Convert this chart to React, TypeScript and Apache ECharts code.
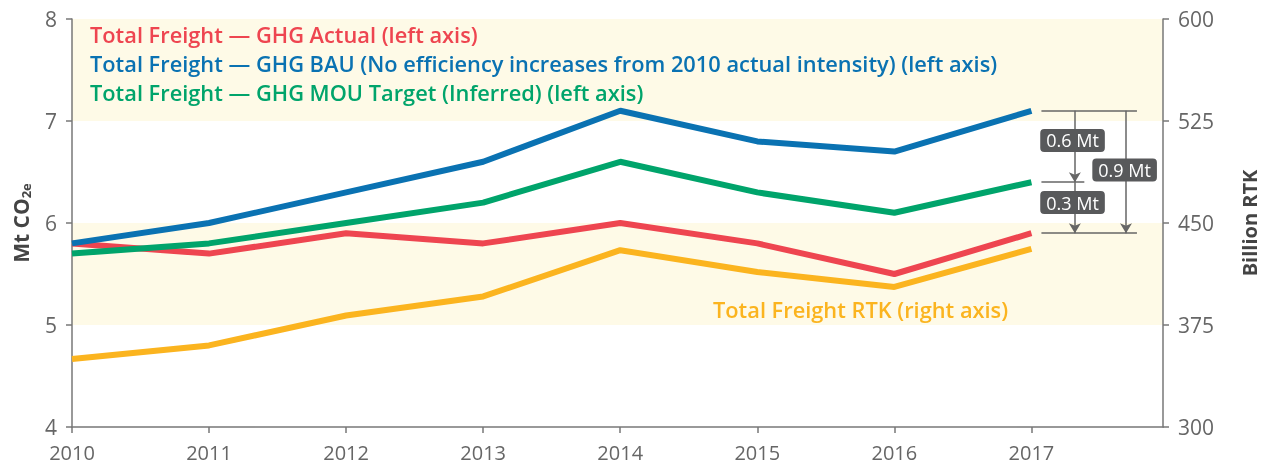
import React, { useEffect, useRef } from "react";
import * as echarts from "echarts";

const years = [2010, 2011, 2012, 2013, 2014, 2015, 2016, 2017];
const ghgActual = [5.8, 5.7, 5.9, 5.8, 6.0, 5.8, 5.5, 5.9];
const ghgBAU = [5.8, 6.0, 6.3, 6.6, 7.1, 6.8, 6.7, 7.1];
const ghgMOU = [5.7, 5.8, 6.0, 6.2, 6.6, 6.3, 6.1, 6.4];
const rtk = [350, 360, 382, 396, 430, 414, 403, 431];
const leftTicks = [4, 5, 6, 7, 8];
const rightTicks = [300, 375, 450, 525, 600];
const gapLabels = ["0.6 Mt", "0.9 Mt", "0.3 Mt"];

const NAME_ACTUAL = "Total Freight — GHG Actual (left axis)";
const NAME_BAU = "Total Freight — GHG BAU (No efficiency increases from 2010 actual intensity) (left axis)";
const NAME_MOU = "Total Freight — GHG MOU Target (Inferred) (left axis)";
const NAME_RTK = "Total Freight RTK (right axis)";

const RED = "#ee4550";
const BLUE = "#0a72b2";
const GREEN = "#00a46b";
const YELLOW = "#fbb41f";
const FONT = "'Open Sans'";

const pair = (xs: number[], ys: number[]) => xs.map((x, i) => [x, ys[i]]);

export default function App() {
  const ref = useRef<HTMLDivElement>(null);
  useEffect(() => {
    if (!ref.current) return;
    const chart = echarts.init(ref.current, undefined, { renderer: "svg" });
    const last = ghgBAU.length - 1;
    const top = ghgBAU[last];
    const mid = ghgMOU[last];
    const bot = ghgActual[last];
    const lastYear = years[last];
    const labelStyle = {
      show: true,
      position: "inside",
      color: "#fff",
      fontSize: 18,
      fontFamily: FONT,
      backgroundColor: "#58595b",
      borderRadius: 4,
      padding: [3, 6, 2, 6],
      formatter: (p: any) => p.name,
    };
    chart.setOption({
      animation: false,
      textStyle: { fontFamily: FONT },
      grid: { left: 72, right: 100, top: 19, bottom: 37 },
      legend: {
        left: 85,
        top: 23,
        padding: 0,
        orient: "vertical",
        icon: "none",
        itemWidth: 0,
        itemHeight: 14,
        itemGap: 7,
        selectedMode: false,
        textStyle: { fontSize: 21.8, fontWeight: 600, fontFamily: FONT },
        data: [
          { name: NAME_ACTUAL, textStyle: { color: RED } },
          { name: NAME_BAU, textStyle: { color: BLUE } },
          { name: NAME_MOU, textStyle: { color: GREEN } },
        ],
      },
      xAxis: {
        type: "value",
        min: 2010,
        max: 2017.96,
        interval: 1,
        axisLine: { lineStyle: { color: "#777", width: 1.5 } },
        axisTick: { show: true, length: 6, lineStyle: { color: "#777", width: 1.5 } },
        axisLabel: {
          color: "#666",
          fontSize: 20,
          margin: 15,
          showMaxLabel: false,
          formatter: (v: number) => (years.includes(v) ? String(v) : ""),
        },
        splitLine: { show: false },
      },
      yAxis: [
        {
          type: "value",
          min: leftTicks[0],
          max: leftTicks[leftTicks.length - 1],
          interval: 1,
          position: "left",
          name: "Mt CO{sub|2e}",
          nameLocation: "middle",
          nameGap: 40,
          nameTextStyle: {
            fontSize: 21,
            fontWeight: "bold",
            color: "#444",
            fontFamily: FONT,
            rich: {
              sub: { fontSize: 13, fontWeight: "bold", color: "#444", fontFamily: FONT, verticalAlign: "bottom", padding: [10, 0, 0, 0] },
            },
          },
          axisLine: { show: true, lineStyle: { color: "#777", width: 1.5 } },
          axisTick: { show: true, length: 6, lineStyle: { color: "#777", width: 1.5 } },
          axisLabel: { color: "#666", fontSize: 21, margin: 15 },
          splitLine: { show: false },
          splitArea: { show: true, areaStyle: { color: ["rgba(0,0,0,0)", "#fefae7"] } },
        },
        {
          type: "value",
          min: rightTicks[0],
          max: rightTicks[rightTicks.length - 1],
          interval: 75,
          position: "right",
          name: "Billion RTK",
          nameLocation: "middle",
          nameGap: 76,
          nameRotate: 90,
          nameTextStyle: { fontSize: 20, fontWeight: "bold", color: "#444", fontFamily: FONT },
          axisLine: { show: true, lineStyle: { color: "#777", width: 1.5 } },
          axisTick: { show: true, length: 6, lineStyle: { color: "#777", width: 1.5 } },
          axisLabel: { color: "#666", fontSize: 21, margin: 15 },
          splitLine: { show: false },
        },
      ],
      graphic: [
        {
          type: "text",
          left: 713,
          top: 298,
          z: 100,
          style: { text: NAME_RTK, fill: YELLOW, font: `600 21.8px ${FONT}` },
        },
      ],
      series: [
        {
          name: NAME_RTK,
          type: "line",
          yAxisIndex: 1,
          data: pair(years, rtk),
          symbol: "none",
          lineStyle: { color: YELLOW, width: 6 },
          itemStyle: { color: YELLOW },
          z: 2,
        },
        {
          name: NAME_ACTUAL,
          type: "line",
          data: pair(years, ghgActual),
          symbol: "none",
          lineStyle: { color: RED, width: 6 },
          itemStyle: { color: RED },
          z: 3,
        },
        {
          name: NAME_MOU,
          type: "line",
          data: pair(years, ghgMOU),
          symbol: "none",
          lineStyle: { color: GREEN, width: 6 },
          itemStyle: { color: GREEN },
          z: 4,
        },
        {
          name: NAME_BAU,
          type: "line",
          data: pair(years, ghgBAU),
          symbol: "none",
          lineStyle: { color: BLUE, width: 6 },
          itemStyle: { color: BLUE },
          z: 5,
          markLine: {
            silent: true,
            symbol: ["none", "arrow"],
            symbolSize: [9, 10],
            label: { show: false },
            lineStyle: { color: "#666", width: 1.5, type: "solid" },
            data: [
              [
                { coord: [lastYear + 0.073, top], symbol: "none" },
                { coord: [lastYear + 0.77, top], symbol: "none" },
              ],
              [
                { coord: [lastYear + 0.073, mid], symbol: "none" },
                { coord: [lastYear + 0.386, mid], symbol: "none" },
              ],
              [
                { coord: [lastYear + 0.073, bot], symbol: "none" },
                { coord: [lastYear + 0.77, bot], symbol: "none" },
              ],
              [{ coord: [lastYear + 0.317, top] }, { coord: [lastYear + 0.317, mid] }],
              [{ coord: [lastYear + 0.317, mid] }, { coord: [lastYear + 0.317, bot] }],
              [{ coord: [lastYear + 0.69, top] }, { coord: [lastYear + 0.69, bot] }],
            ],
          },
          markPoint: {
            silent: true,
            symbol: "rect",
            symbolSize: 1,
            itemStyle: { color: "rgba(0,0,0,0)" },
            label: labelStyle,
            data: [
              { name: gapLabels[0], coord: [lastYear + 0.3, 6.81] },
              { name: gapLabels[1], coord: [lastYear + 0.68, 6.52] },
              { name: gapLabels[2], coord: [lastYear + 0.3, 6.2] },
            ],
          },
        },
      ],
    });
    return () => chart.dispose();
  }, []);
  return (
    <div
      ref={ref}
      style={{ position: "fixed", left: 0, top: 0, width: 1267, height: 464 }}
    />
  );
}
